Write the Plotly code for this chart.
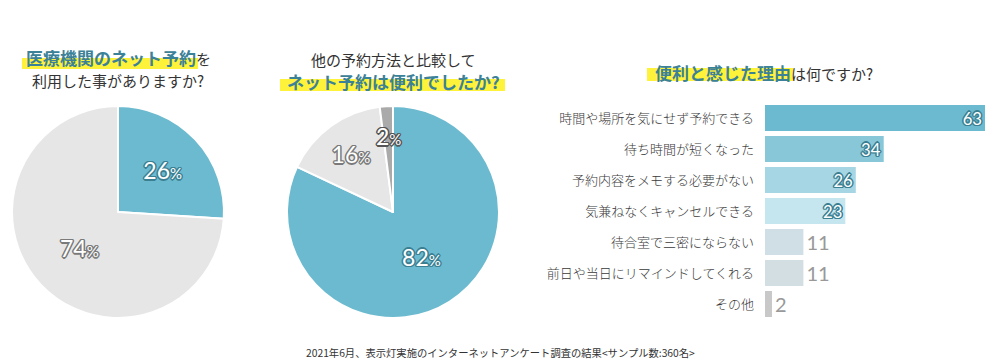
import math
import plotly.graph_objects as go

W, H = 1000, 364
def px(x): return x / W
def py(y): return 1 - y / H

# ---- data ----
pie1_labels = ["ある", "ない"]
pie1_values = [26, 74]
pie2_labels = ["便利", "どちらでもない", "その他"]
pie2_values = [82, 16, 2]
reasons = ["時間や場所を気にせず予約できる", "待ち時間が短くなった", "予約内容をメモする必要がない",
           "気兼ねなくキャンセルできる", "待合室で三密にならない", "前日や当日にリマインドしてくれる", "その他"]
reason_values = [63, 34, 26, 23, 11, 11, 2]
footer = "2021年6月、表示灯実施のインターネットアンケート調査の結果<サンプル数:360名>"

TEAL = "#6bbacf"
TITLE_TEAL = "#3b8197"
YELLOW = "#fff23a"
DARK = "#333333"
JP = "Noto Sans CJK JP"
NUM = "Lato"

def outline(c):
    return f"-1px -1px 0 {c}, 1px -1px 0 {c}, -1px 1px 0 {c}, 1px 1px 0 {c}, 0 1.5px 0 {c}, 0 -1.5px 0 {c}, 1.5px 0 0 {c}, -1.5px 0 0 {c}"

def pct(v):
    return f"{v}<span style='font-size:15px'>%</span>"

fig = go.Figure()

fig.add_trace(go.Pie(
    labels=pie1_labels, values=pie1_values, sort=False, direction="clockwise", rotation=0,
    marker=dict(colors=[TEAL, "#e6e6e6"], line=dict(color="white", width=2)),
    text=[pct(v) for v in pie1_values], textinfo="text", textposition="inside",
    insidetextorientation="horizontal",
    textfont=dict(family=NUM, size=23, color="white",
                  shadow=[outline("#3b7f92"), outline("#7a7a7a")]),
    domain=dict(x=[px(12), px(224)], y=[py(318), py(106)]),
    showlegend=False, hoverinfo="label+percent",
))

# small slices (< 5%) get their label drawn as an annotation instead
pie2_text = [pct(v) if v >= 5 else "" for v in pie2_values]
fig.add_trace(go.Pie(
    labels=pie2_labels, values=pie2_values, sort=False, direction="clockwise", rotation=0,
    marker=dict(colors=[TEAL, "#e6e6e6", "#aaaaaa"], line=dict(color="white", width=2)),
    text=pie2_text, textinfo="text", textposition="inside",
    insidetextorientation="horizontal",
    textfont=dict(family=NUM, size=23, color="white",
                  shadow=[outline("#3b7f92"), outline("#7a7a7a"), outline("#555555")]),
    domain=dict(x=[px(287), px(499)], y=[py(318), py(106)]),
    showlegend=False, hoverinfo="label+percent",
))

bar_colors = ["#6bbacf", "#88c7d7", "#a6d6e3", "#c5e6ef", "#d0dfe6", "#d3dee3", "#c8c8c8"]
inside = [v >= 20 for v in reason_values]
fig.add_trace(go.Bar(
    x=reason_values, y=reasons, orientation="h",
    marker=dict(color=bar_colors, line=dict(width=0)),
    width=0.84,
    text=[str(v) for v in reason_values],
    textposition=["inside" if i else "outside" for i in inside],
    insidetextanchor="end", textangle=0,
    textfont=dict(family=NUM, size=20,
                  color=["white" if i else "#999999" for i in inside],
                  shadow=[outline("#3b7f92") if i else "none" for i in inside]),
    cliponaxis=False, showlegend=False,
    xaxis="x", yaxis="y",
))

fig.update_layout(
    width=W, height=H,
    margin=dict(l=0, r=0, t=0, b=0),
    paper_bgcolor="white", plot_bgcolor="white",
    font=dict(family=JP, color=DARK),
    xaxis=dict(domain=[px(765), px(985)], range=[0, 63], visible=False, fixedrange=True),
    yaxis=dict(domain=[py(319.5), py(102.5)], type="category", autorange="reversed",
               showgrid=False, zeroline=False, showline=False, ticks="",
               ticklabelstandoff=10, fixedrange=True,
               tickfont=dict(family=JP, size=13, color="#3a3a3a", weight=300)),
)

# label for the tiny slice of pie 2, placed at its mid-angle
cx, cy, r = 393, 212, 76
cum = 0
tot = sum(pie2_values)
for v in pie2_values:
    if v < 5:
        ang = 2 * math.pi * (cum + v / 2) / tot
        fig.add_annotation(x=px(cx + r * math.sin(ang)), y=py(cy - r * math.cos(ang)),
                           xref="paper", yref="paper", text=pct(v), showarrow=False,
                           font=dict(family=NUM, size=23, color="white", shadow=outline("#555555")))
    cum += v

# yellow highlights
for x0, x1, y0, y1 in [(22, 198, 58, 69), (280, 505, 79, 91), (647, 793, 68, 81)]:
    fig.add_shape(type="rect", xref="paper", yref="paper",
                  x0=px(x0), x1=px(x1), y0=py(y1), y1=py(y0),
                  fillcolor=YELLOW, line=dict(width=0), layer="below")

def ann(x, y, text, size, weight=400):
    fig.add_annotation(x=px(x), y=py(y), xref="paper", yref="paper", text=text,
                       showarrow=False, xanchor="center", yanchor="middle",
                       font=dict(family=JP, size=size, color=DARK, weight=weight))

ann(118, 57, f"<b><span style='color:{TITLE_TEAL}'>医療機関のネット予約</span></b><span style='font-size:15px'>を</span>", 17)
ann(118, 80, "利用した事がありますか?", 15)
ann(393, 60, "他の予約方法と比較して", 15)
ann(393, 81, f"<b><span style='color:{TITLE_TEAL}'>ネット予約は便利でしたか?</span></b>", 17)
ann(764, 73, f"<b><span style='color:{TITLE_TEAL}'>便利と感じた理由</span></b><span style='font-size:15px'>は何ですか?</span>", 17)
ann(500, 352, footer, 10.3)

fig.write_html("out.html", config={"displayModeBar": False},
               post_script="document.body.style.margin='0';document.body.style.padding='0';document.body.style.overflow='hidden';")
